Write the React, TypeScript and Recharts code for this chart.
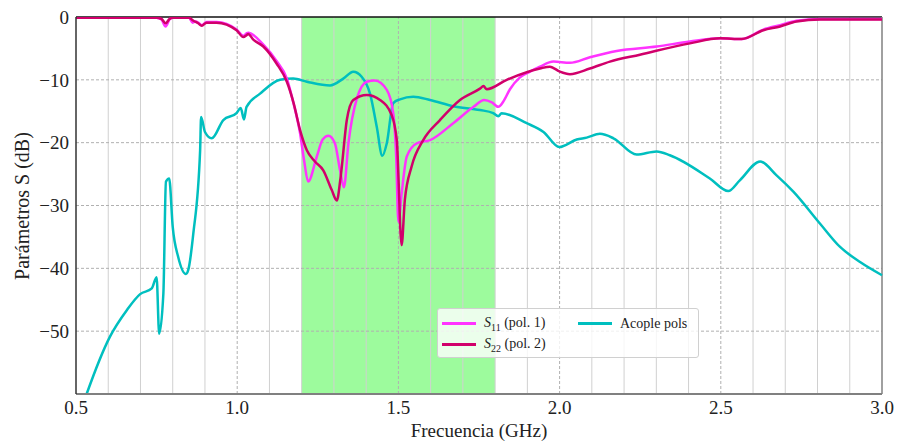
import React from "react";
import {
  LineChart,
  Line,
  XAxis,
  YAxis,
  ReferenceArea,
  ReferenceLine,
} from "recharts";

// frequencies in GHz, levels in dB
const s11Freq = [
  0.5, 0.75, 0.765, 0.778, 0.79, 0.8, 0.85, 0.862, 0.872, 0.879, 0.89, 0.905,
  0.936, 0.998, 1.019, 1.029, 1.034, 1.081, 1.122, 1.154, 1.175, 1.195, 1.208,
  1.22, 1.247, 1.265, 1.283, 1.303, 1.319, 1.331, 1.345, 1.371, 1.402, 1.427,
  1.464, 1.484, 1.493, 1.5, 1.51, 1.526, 1.557, 1.598, 1.67, 1.733, 1.766, 1.79,
  1.81, 1.825, 1.846, 1.877, 1.908, 1.939, 1.981, 2.032, 2.094, 2.177, 2.301,
  2.404, 2.498, 2.565, 2.632, 2.684, 2.735, 2.808, 3.0,
];
const s11Db = [
  -0.1, -0.1, -0.4, -1.5, -0.4, -0.1, -0.1, -0.9, -0.7, -0.9, -1.3, -0.8, -0.8,
  -2.0, -3.0, -2.6, -2.5, -4.4, -7.0, -9.8, -13.8, -18.5, -23.0, -26.2, -22.2,
  -19.5, -18.9, -20.1, -24.4, -27.1, -20.1, -13.0, -10.3, -10.1, -11.6, -15.3,
  -22.0, -32.6, -28.1, -22.2, -20.1, -19.6, -16.9, -14.3, -13.2, -13.6, -14.3,
  -13.5, -11.5, -9.6, -8.7, -7.9, -7.1, -7.3, -6.4, -5.4, -4.7, -3.9, -3.4,
  -3.5, -2.0, -1.3, -0.6, -0.3, -0.3,
];

const s22Freq = [
  0.5, 0.75, 0.765, 0.778, 0.79, 0.8, 0.85, 0.864, 0.879, 0.89, 0.905, 0.936,
  0.998, 1.019, 1.029, 1.034, 1.05, 1.081, 1.122, 1.154, 1.175, 1.195, 1.216,
  1.241, 1.267, 1.293, 1.309, 1.321, 1.34, 1.36, 1.402, 1.443, 1.479, 1.495,
  1.51, 1.52, 1.541, 1.577, 1.629, 1.691, 1.753, 1.764, 1.774, 1.836, 1.939,
  1.97, 2.001, 2.032, 2.094, 2.156, 2.249, 2.404, 2.498, 2.565, 2.632, 2.684,
  2.735, 2.808, 3.0,
];
const s22Db = [
  -0.1, -0.1, -0.3, -1.0, -0.3, -0.1, -0.1, -0.6, -1.0, -1.4, -0.9, -0.9, -2.1,
  -3.2, -2.9, -2.7, -3.6, -4.7, -7.4, -10.3, -13.7, -18.0, -21.2, -23.0, -24.4,
  -27.5, -29.2, -25.4, -16.4, -13.2, -12.4, -13.2, -15.6, -19.6, -36.3, -29.1,
  -23.8, -19.6, -16.4, -13.2, -11.4, -11.0, -11.5, -10.0, -8.2, -7.9, -8.7,
  -9.1, -8.2, -7.1, -6.0, -4.2, -3.4, -3.5, -2.1, -1.5, -0.7, -0.4, -0.4,
];

const acopleFreq = [
  0.5, 0.533, 0.605, 0.657, 0.699, 0.735, 0.75, 0.758, 0.771, 0.779, 0.789, 0.8,
  0.817, 0.841, 0.848, 0.864, 0.885, 0.888, 0.9, 0.921, 0.957, 0.998, 1.011,
  1.021, 1.029, 1.071, 1.133, 1.174, 1.216, 1.288, 1.329, 1.36, 1.386, 1.412,
  1.433, 1.45, 1.464, 1.484, 1.505, 1.546, 1.598, 1.67, 1.753, 1.794, 1.81, 1.82,
  1.898, 1.95, 1.999, 2.053, 2.084, 2.125, 2.167, 2.239, 2.301, 2.342, 2.466,
  2.523, 2.559, 2.622, 2.673, 2.725, 2.808, 2.87, 2.932, 3.0,
];
const acopleDb = [
  -65, -60, -50.9, -46.7, -44.1, -43.2, -41.4, -50.4, -44, -26.2, -25.7, -33.4,
  -38.2, -40.9, -40.3, -34.4, -21.2, -15.9, -18.3, -19.3, -16.4, -15.3, -14.5,
  -16.3, -14.3, -12.2, -10.0, -9.8, -10.3, -10.9, -9.8, -8.7, -9.5, -12.2,
  -17.5, -22.1, -20.1, -13.7, -13.1, -12.7, -13.2, -14.2, -14.8, -15.3, -15.8,
  -15.3, -16.9, -18.3, -20.7, -19.5, -19.2, -18.6, -19.3, -21.9, -21.4, -22.0,
  -25.7, -27.7, -26.0, -23.0, -25.2, -27.8, -32.9, -36.6, -39.0, -41.1,
];

const xTicks = [0.5, 1.0, 1.5, 2.0, 2.5, 3.0];
const xMinor = [
  0.6, 0.7, 0.8, 0.9, 1.1, 1.2, 1.3, 1.4, 1.6, 1.7, 1.8, 1.9, 2.1, 2.2, 2.3,
  2.4, 2.6, 2.7, 2.8, 2.9,
];
const xMajorGrid = [1.0, 1.5, 2.0, 2.5];
const yTicks = [0, -10, -20, -30, -40, -50];
const band = [1.2, 1.8];

const toRows = (f: number[], v: number[]) => f.map((x, i) => ({ f: x, db: v[i] }));

const s11 = toRows(s11Freq, s11Db);
const s22 = toRows(s22Freq, s22Db);
const acople = toRows(acopleFreq, acopleDb);

const FONT = "'Liberation Serif', 'DejaVu Serif', serif";
const C_S11 = "#ff33ff";
const C_S22 = "#d1006b";
const C_AC = "#00bfbf";

const fmtY = (v: number) => (v < 0 ? "\u2212" + Math.abs(v) : String(v));

function LegendRow({ color, children }: { color: string; children: React.ReactNode }) {
  return (
    <div style={{ display: "flex", alignItems: "center", height: 21 }}>
      <div style={{ width: 34, height: 3, background: color, marginRight: 8 }} />
      <span>{children}</span>
    </div>
  );
}

export default function App() {
  return (
    <div
      style={{
        position: "absolute",
        left: 0,
        top: 0,
        width: 897,
        height: 441,
        background: "#fff",
        fontFamily: FONT,
      }}
    >
      <LineChart
        width={897}
        height={441}
        margin={{ top: 17, right: 15, left: 0, bottom: 0 }}
      >
        <XAxis
          type="number"
          dataKey="f"
          domain={[0.5, 3.0]}
          ticks={xTicks}
          tickFormatter={(v: number) => v.toFixed(1)}
          allowDuplicatedCategory={false}
          height={47}
          tickSize={0}
          tickMargin={7}
          stroke="#808080"
          strokeWidth={2}
          tick={{ fill: "#222", fontSize: 19, fontFamily: FONT }}
        />
        <YAxis
          type="number"
          domain={[-60, 0]}
          ticks={yTicks}
          allowDataOverflow
          tickFormatter={fmtY}
          width={76}
          tickSize={0}
          tickMargin={7}
          stroke="#333"
          strokeWidth={1.5}
          tick={{ fill: "#222", fontSize: 19, fontFamily: FONT }}
        />

        <ReferenceArea
          x1={band[0]}
          x2={band[1]}
          y1={-60}
          y2={0}
          fill="#98fb98"
          fillOpacity={0.95}
          stroke="none"
        />

        {xMinor.map((x) => (
          <ReferenceLine key={"m" + x} x={x} stroke="#d0d0d0" strokeWidth={1} />
        ))}
        {xMajorGrid.map((x) => (
          <ReferenceLine
            key={"M" + x}
            x={x}
            stroke="#b0b0b0"
            strokeWidth={1}
            strokeDasharray="3 2"
          />
        ))}
        {yTicks
          .filter((y) => y !== 0)
          .map((y) => (
            <ReferenceLine
              key={"h" + y}
              y={y}
              stroke="#b0b0b0"
              strokeWidth={1}
              strokeDasharray="3 2"
            />
          ))}
        <ReferenceLine y={0} stroke="#111" strokeWidth={1.5} />
        <ReferenceLine x={3.0} stroke="#808080" strokeWidth={1.5} />

        <Line
          data={acople}
          dataKey="db"
          type="monotone"
          stroke={C_AC}
          strokeWidth={2.5}
          dot={false}
          isAnimationActive={false}
        />
        <Line
          data={s11}
          dataKey="db"
          type="monotone"
          stroke={C_S11}
          strokeWidth={2.5}
          dot={false}
          isAnimationActive={false}
        />
        <Line
          data={s22}
          dataKey="db"
          type="monotone"
          stroke={C_S22}
          strokeWidth={2.5}
          dot={false}
          isAnimationActive={false}
        />
      </LineChart>

      <div
        style={{
          position: "absolute",
          left: 0,
          top: 421,
          width: 958,
          textAlign: "center",
          fontSize: 19,
          color: "#222",
          lineHeight: "19px",
        }}
      >
        Frecuencia (GHz)
      </div>
      <div
        style={{
          position: "absolute",
          left: 22,
          top: 206,
          transform: "translate(-50%, -50%) rotate(-90deg)",
          whiteSpace: "nowrap",
          fontSize: 20,
          color: "#222",
        }}
      >
        Parámetros S (dB)
      </div>

      <div
        style={{
          position: "absolute",
          left: 437,
          top: 308,
          width: 262,
          height: 50,
          boxSizing: "border-box",
          padding: "4px 4px",
          background: "rgba(255,255,255,0.8)",
          border: "1px solid #d0d0d0",
          borderRadius: 3,
          fontSize: 14,
          color: "#222",
          display: "flex",
        }}
      >
        <div style={{ width: 136 }}>
          <LegendRow color={C_S11}>
            <i>S</i>
            <sub style={{ fontSize: 10 }}>11</sub> (pol. 1)
          </LegendRow>
          <LegendRow color={C_S22}>
            <i>S</i>
            <sub style={{ fontSize: 10 }}>22</sub> (pol. 2)
          </LegendRow>
        </div>
        <div>
          <LegendRow color={C_AC}>Acople pols</LegendRow>
        </div>
      </div>
    </div>
  );
}
